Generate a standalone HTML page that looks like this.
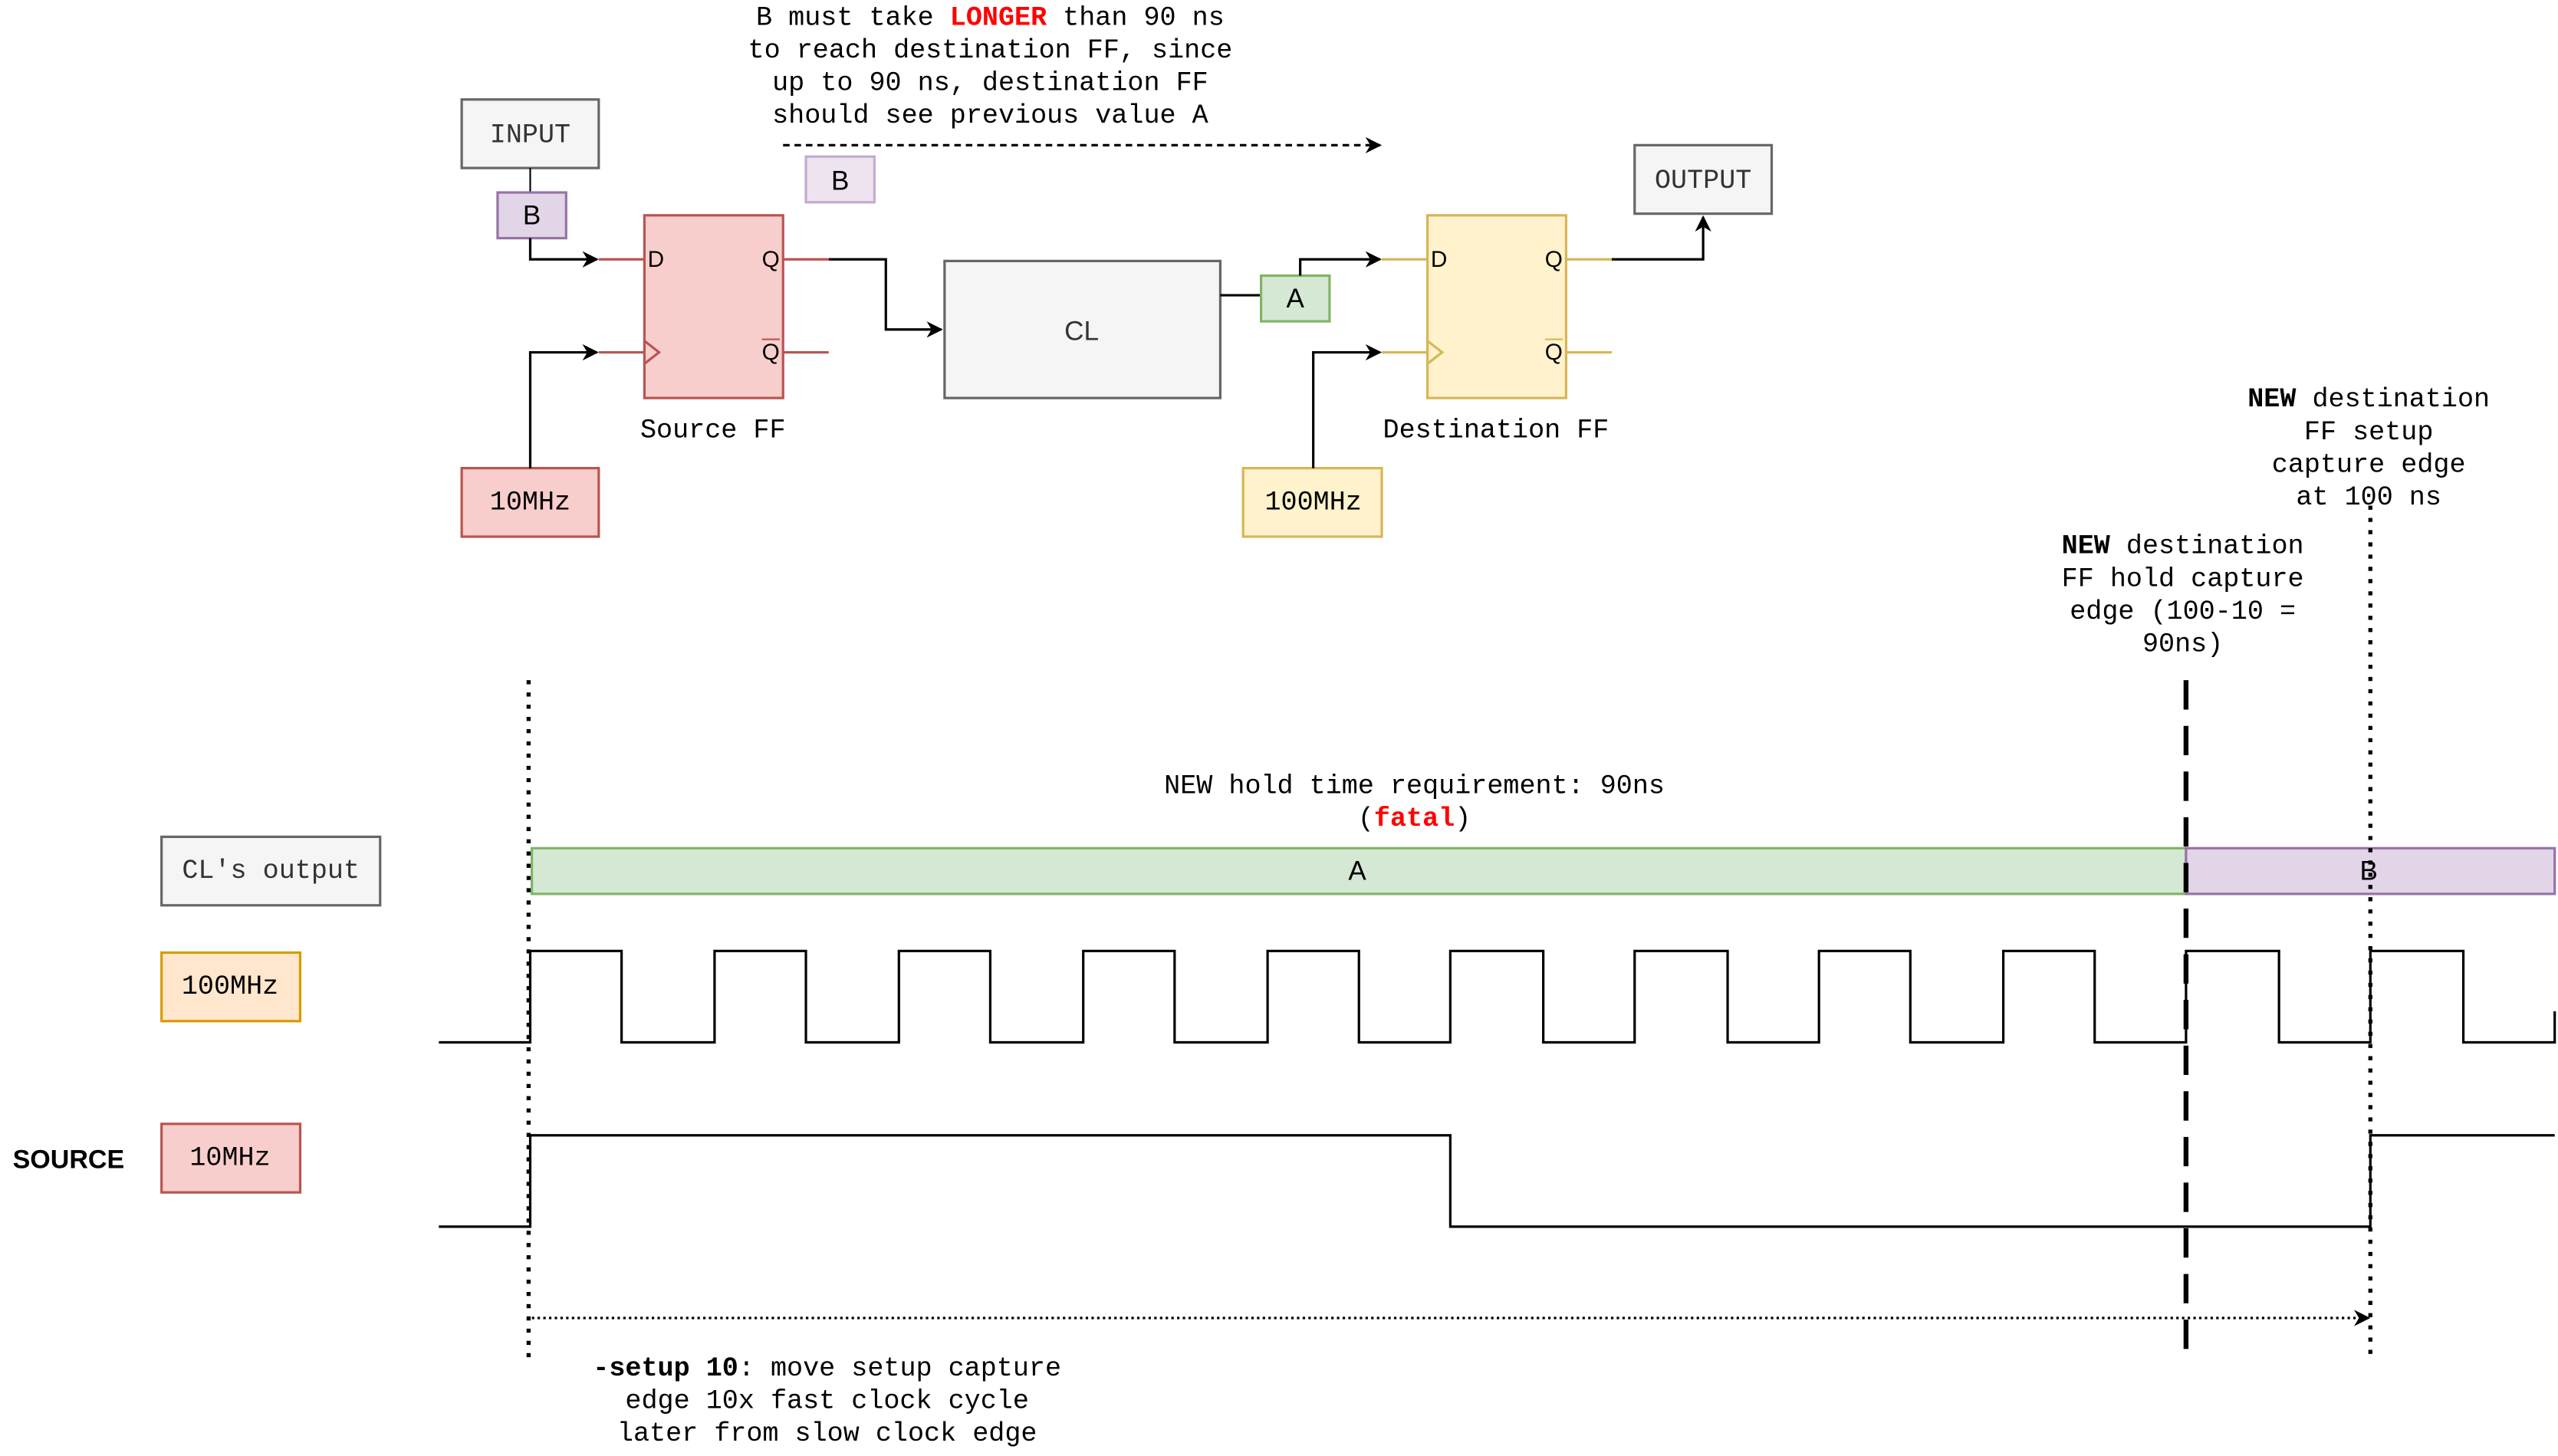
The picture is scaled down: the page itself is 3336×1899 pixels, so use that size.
<!DOCTYPE html>
<html><head><meta charset="utf-8"><style>html,body{margin:0;padding:0;background:#fff}svg{display:block}</style></head><body>
<svg width="3336" height="1899" viewBox="0 0 1568 892.6" xmlns="http://www.w3.org/2000/svg" font-family="Liberation Mono, monospace" font-size="16.5">
<defs><marker id="ah" markerWidth="10" markerHeight="10" refX="9" refY="5" orient="auto" markerUnits="userSpaceOnUse"><path d="M0,0 L10,5 L0,10 L3,5 Z" fill="#000"/></marker></defs>
<rect width="1568" height="893" fill="#fff"/>
<g text-anchor="middle" dominant-baseline="central">
<text x="607" y="11">B must take <tspan fill="#f00" font-weight="bold">LONGER</tspan> than 90 ns</text>
<text x="607" y="31">to reach destination FF, since</text>
<text x="607" y="51">up to 90 ns, destination FF</text>
<text x="607" y="71">should see previous value A</text>
</g>
<line x1="480" y1="89" x2="846" y2="89" stroke="#000" stroke-width="1.5" stroke-dasharray="4,3" marker-end="url(#ah)"/>
<rect x="494" y="96" width="42" height="28" fill="#eee4f0" stroke="#c3abd0" stroke-width="1.5"/>
<text x="515" y="111" text-anchor="middle" dominant-baseline="central" font-family="Liberation Sans, sans-serif">B</text>
<rect x="283" y="61" width="84" height="42" fill="#f5f5f5" stroke="#666" stroke-width="1.5"/>
<text x="325" y="83" text-anchor="middle" dominant-baseline="central" fill="#333">INPUT</text>
<line x1="325" y1="103" x2="325" y2="118" stroke="#000"/>
<rect x="305" y="118" width="42" height="28" fill="#e1d5e7" stroke="#9673a6" stroke-width="1.5"/>
<text x="326" y="132" text-anchor="middle" dominant-baseline="central" font-family="Liberation Sans, sans-serif">B</text>
<polyline points="325,146 325,159 366,159" fill="none" stroke="#000" stroke-width="1.5" marker-end="url(#ah)"/>
<line x1="367" y1="159" x2="395" y2="159" stroke="#b85450" stroke-width="1.5"/>
<line x1="367" y1="216" x2="395" y2="216" stroke="#b85450" stroke-width="1.5"/>
<rect x="395" y="132" width="85" height="112" fill="#f8cecc" stroke="#b85450" stroke-width="1.5"/>
<polyline points="395,209 404,216 395,223" fill="none" stroke="#b85450" stroke-width="1.5"/>
<line x1="480" y1="159" x2="508" y2="159" stroke="#b85450" stroke-width="1.5"/>
<line x1="480" y1="216" x2="508" y2="216" stroke="#b85450" stroke-width="1.5"/>
<polyline points="508,159 543,159 543,202 577,202" fill="none" stroke="#000" stroke-width="1.5" marker-end="url(#ah)"/>
<rect x="579" y="160" width="169" height="84" fill="#f5f5f5" stroke="#666" stroke-width="1.5"/>
<text x="663" y="203" text-anchor="middle" dominant-baseline="central" fill="#333" font-family="Liberation Sans, sans-serif">CL</text>
<line x1="748" y1="181" x2="773" y2="181" stroke="#000" stroke-width="1.5"/>
<rect x="773" y="169" width="42" height="28" fill="#d5e8d4" stroke="#82b366" stroke-width="1.5"/>
<text x="794" y="183" text-anchor="middle" dominant-baseline="central" font-family="Liberation Sans, sans-serif">A</text>
<polyline points="797,169 797,159 846,159" fill="none" stroke="#000" stroke-width="1.5" marker-end="url(#ah)"/>
<line x1="847" y1="159" x2="875" y2="159" stroke="#d6b656" stroke-width="1.5"/>
<line x1="847" y1="216" x2="875" y2="216" stroke="#d6b656" stroke-width="1.5"/>
<rect x="875" y="132" width="85" height="112" fill="#fff2cc" stroke="#d6b656" stroke-width="1.5"/>
<polyline points="875,209 884,216 875,223" fill="none" stroke="#d6b656" stroke-width="1.5"/>
<line x1="960" y1="159" x2="988" y2="159" stroke="#d6b656" stroke-width="1.5"/>
<line x1="960" y1="216" x2="988" y2="216" stroke="#d6b656" stroke-width="1.5"/>
<g font-family="Liberation Sans, sans-serif" font-size="14" dominant-baseline="central">
<text x="397" y="159">D</text><text x="467" y="159">Q</text><text x="467" y="216">Q</text>
<text x="877" y="159">D</text><text x="947" y="159">Q</text><text x="947" y="216">Q</text>
</g>
<line x1="467" y1="208" x2="478" y2="208" stroke="#b85450"/>
<line x1="947" y1="208" x2="958" y2="208" stroke="#d6b656"/>
<polyline points="988,159 1044,159 1044,133" fill="none" stroke="#000" stroke-width="1.5" marker-end="url(#ah)"/>
<rect x="1002" y="89" width="84" height="42" fill="#f5f5f5" stroke="#666" stroke-width="1.5"/>
<text x="1044" y="111" text-anchor="middle" dominant-baseline="central" fill="#333">OUTPUT</text>
<rect x="283" y="287" width="84" height="42" fill="#f8cecc" stroke="#b85450" stroke-width="1.5"/>
<text x="325" y="308" text-anchor="middle" dominant-baseline="central">10MHz</text>
<polyline points="325,287 325,216 366,216" fill="none" stroke="#000" stroke-width="1.5" marker-end="url(#ah)"/>
<rect x="762" y="287" width="85" height="42" fill="#fff2cc" stroke="#d6b656" stroke-width="1.5"/>
<text x="805" y="308" text-anchor="middle" dominant-baseline="central">100MHz</text>
<polyline points="805,287 805,216 846,216" fill="none" stroke="#000" stroke-width="1.5" marker-end="url(#ah)"/>
<g text-anchor="middle" dominant-baseline="central">
<text x="437" y="264">Source FF</text>
<text x="917" y="264">Destination FF</text>
<text x="1452" y="245"><tspan font-weight="bold">NEW</tspan> destination</text>
<text x="1452" y="265">FF setup</text>
<text x="1452" y="285">capture edge</text>
<text x="1452" y="305">at 100 ns</text>
<text x="1338" y="335"><tspan font-weight="bold">NEW</tspan> destination</text>
<text x="1338" y="355">FF hold capture</text>
<text x="1338" y="375">edge (100-10 =</text>
<text x="1338" y="395">90ns)</text>
<text x="867" y="482">NEW hold time requirement: 90ns</text>
<text x="867" y="502">(<tspan fill="#f00" font-weight="bold">fatal</tspan>)</text>
<text x="507" y="839"><tspan font-weight="bold">-setup 10</tspan>: move setup capture</text>
<text x="507" y="859">edge 10x fast clock cycle</text>
<text x="507" y="879">later from slow clock edge</text>
</g>
<rect x="99" y="513" width="134" height="42" fill="#f5f5f5" stroke="#666" stroke-width="1.5"/>
<text x="166" y="534" text-anchor="middle" dominant-baseline="central" fill="#333">CL's output</text>
<rect x="99" y="584" width="85" height="42" fill="#ffe6cc" stroke="#d79b00" stroke-width="1.5"/>
<text x="141" y="605" text-anchor="middle" dominant-baseline="central">100MHz</text>
<rect x="99" y="689" width="85" height="42" fill="#f8cecc" stroke="#b85450" stroke-width="1.5"/>
<text x="141" y="710" text-anchor="middle" dominant-baseline="central">10MHz</text>
<text x="42" y="711" text-anchor="middle" dominant-baseline="central" font-family="Liberation Sans, sans-serif" font-weight="bold" font-size="16">SOURCE</text>
<rect x="326" y="520" width="1014" height="28" fill="#d5e8d4" stroke="#82b366" stroke-width="1.5"/>
<rect x="1340" y="520" width="226" height="28" fill="#e1d5e7" stroke="#9673a6" stroke-width="1.5"/>
<text x="832" y="534" text-anchor="middle" dominant-baseline="central" font-family="Liberation Sans, sans-serif">A</text>
<text x="1452" y="534" text-anchor="middle" dominant-baseline="central" font-family="Liberation Sans, sans-serif">B</text>
<polyline fill="none" stroke="#000" stroke-width="1.5" points="269,639 325,639 325,583 381,583 381,639 438,639 438,583 494,583 494,639 551,639 551,583 607,583 607,639 664,639 664,583 720,583 720,639 777,639 777,583 833,583 833,639 889,639 889,583 946,583 946,639 1002,639 1002,583 1059,583 1059,639 1115,639 1115,583 1171,583 1171,639 1228,639 1228,583 1284,583 1284,639 1340,639 1340,583 1397,583 1397,639 1453,639 1453,583 1510,583 1510,639 1566,639 1566,620"/>
<polyline fill="none" stroke="#000" stroke-width="1.5" points="269,752 325,752 325,696 889,696 889,752 1453,752 1453,696 1566,696"/>
<line x1="324" y1="417" x2="324" y2="835" stroke="#000" stroke-width="2.5" stroke-dasharray="2.5,5"/>
<line x1="1453" y1="310" x2="1453" y2="835" stroke="#000" stroke-width="2.5" stroke-dasharray="2.5,5"/>
<line x1="1340" y1="417" x2="1340" y2="835" stroke="#000" stroke-width="3" stroke-dasharray="18,10"/>
<line x1="326" y1="808" x2="1452" y2="808" stroke="#000" stroke-width="1.5" stroke-dasharray="1.5,2" marker-end="url(#ah)"/>
</svg>
</body></html>
